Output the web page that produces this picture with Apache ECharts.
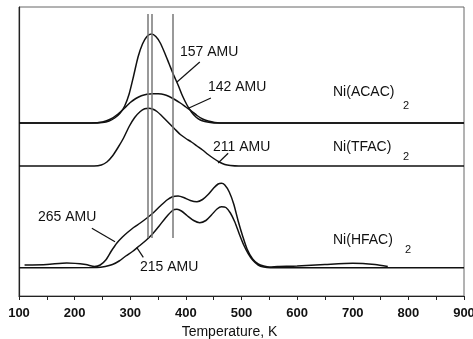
<!DOCTYPE html>
<html>
<head>
<meta charset="utf-8">
<script src="https://cdn.jsdelivr.net/npm/echarts@6/dist/echarts.min.js"></script>
<style>
  html, body { margin: 0; padding: 0; background: #fff; }
  #main { width: 473px; height: 339px; }
</style>
</head>
<body>
<div id="main"></div>
<script>
var chartDom = document.getElementById("main");
var myChart = echarts.init(chartDom);
var option;

var FONT = "Liberation Sans, Arial, sans-serif";

// x-axis ticks (temperature, K)
var xTicks = [100, 200, 300, 400, 500, 600, 700, 800, 900];

// Ni(ACAC)2 traces (signal, arbitrary offset units)
var temps157 = [100, 230, 250, 262, 272, 282, 290, 298, 306, 314, 322, 330, 338, 346, 354, 362, 370, 378, 386, 394, 402, 410, 418, 426, 434, 444, 455, 470, 900];
var amu157 = [173, 173, 173.5, 175, 178, 183, 190, 202, 220, 239, 252, 259.5, 262, 259.5, 253, 243, 232, 221, 211, 200, 191, 184, 179, 176, 174.5, 173.5, 173, 173, 173];

var temps142 = [100, 230, 250, 265, 278, 290, 300, 310, 320, 330, 340, 350, 360, 370, 380, 390, 400, 410, 420, 430, 440, 452, 470, 900];
var amu142 = [173, 173, 174, 177, 182, 188, 193.5, 197.5, 200.3, 201.8, 202.3, 202.2, 201.5, 199.5, 196.5, 193, 189, 185, 180.5, 177, 175, 173.6, 173, 173];

// Ni(TFAC)2
var temps211 = [100, 235, 248, 258, 268, 278, 288, 298, 308, 318, 326, 333, 340, 348, 356, 364, 372, 380, 390, 400, 410, 420, 430, 440, 450, 460, 470, 480, 495, 900];
var amu211 = [130, 130, 131, 134, 140, 148.5, 158, 169.5, 178.5, 184.5, 187.3, 187.8, 187, 184.5, 180.5, 176, 171.5, 167, 161.5, 157.5, 154, 150, 146, 141.5, 137.5, 134, 131.5, 130.5, 130, 130];

// Ni(HFAC)2
var temps265 = [110, 150, 186, 220, 236, 246, 256, 266, 276, 286, 296, 306, 318, 330, 342, 354, 366, 376, 386, 396, 408, 420, 430, 440, 450, 458, 464, 470, 478, 486, 494, 502, 510, 520, 530, 540, 550, 565, 600, 650, 700, 740, 763];
var amu265 = [31, 31.5, 33, 31.5, 29.5, 31, 36, 45, 53, 59, 64, 68.5, 73, 78, 83.5, 90, 96, 99.3, 100, 98.5, 95.5, 94.3, 96.5, 101.5, 108, 112, 112.7, 111, 104, 92, 75, 60, 47, 37, 32, 30, 29, 29.5, 30, 31.5, 32.7, 31.5, 29.5];

var temps215 = [100, 240, 255, 268, 280, 292, 304, 316, 328, 340, 352, 364, 376, 384, 392, 402, 414, 425, 436, 446, 456, 464, 472, 480, 488, 496, 504, 512, 520, 530, 540, 552, 900];
var amu215 = [28.3, 28.5, 29.5, 31.5, 35, 40, 44.5, 50, 55.5, 62, 70, 78.5, 85.5, 86.7, 85, 80.5, 75.5, 73.3, 75.5, 81, 87, 89.3, 88.5, 83, 74, 62, 51, 42.5, 36, 31, 29, 28.3, 28.3];

// vertical reference lines
var vLines = [331.5, 338.5, 376.5];
var vLineRange = [58, 282];

// leader lines: [x1, y1, x2, y2] in data units
var leaders = [
  [425, 234, 384, 214],
  [445, 198, 405.6, 188],
  [476, 142.7, 458, 133],
  [231, 67.7, 272.6, 54.3],
  [323.5, 38.7, 311.6, 48.7]
];

function pairs(xs, ys) {
  return xs.map(function (x, i) { return [x, ys[i]]; });
}

function curve(name, xs, ys) {
  return {
    name: name,
    type: "line",
    data: pairs(xs, ys),
    showSymbol: false,
    smooth: 0.25,
    lineStyle: { color: "#111", width: 1.5 },
    silent: true,
  };
}

function text(t, x, y, size) {
  return {
    type: "text",
    x: x,
    y: y,
    style: {
      text: t,
      fill: "#111",
      font: (size || 14) + "px " + FONT,
      verticalAlign: "middle",
    },
  };
}

option = {
  animation: false,
  grid: {
    left: 19,
    right: 9,
    top: 7,
    bottom: 43,
    containLabel: false,
    outerBoundsMode: "none",
    show: true,
    borderColor: "#666",
    borderWidth: 1,
  },
  xAxis: {
    type: "value",
    min: xTicks[0],
    max: xTicks[xTicks.length - 1],
    interval: 100,
    name: "Temperature, K",
    nameLocation: "middle",
    nameGap: 27,
    nameTextStyle: { fontFamily: FONT, fontSize: 14, color: "#111", padding: [0, 24, 0, 0] },
    axisLine: { lineStyle: { color: "#222", width: 1.2 } },
    axisTick: { length: 4, lineStyle: { color: "#222" } },
    minorTick: { show: true, splitNumber: 2, length: 4, lineStyle: { color: "#222" } },
    splitLine: { show: false },
    axisLabel: { fontFamily: FONT, fontSize: 13, fontWeight: "bold", color: "#111", margin: 11 },
  },
  yAxis: {
    type: "value",
    min: 0,
    max: 289,
    axisLine: { show: true, lineStyle: { color: "#222", width: 1.2 } },
    axisTick: { show: false },
    axisLabel: { show: false },
    splitLine: { show: false },
  },
  series: [
    curve("157 AMU", temps157, amu157),
    curve("142 AMU", temps142, amu142),
    curve("211 AMU", temps211, amu211),
    curve("265 AMU", temps265, amu265),
    curve("215 AMU", temps215, amu215),
    {
      name: "guides",
      type: "line",
      data: [],
      silent: true,
      markLine: {
        symbol: "none",
        silent: true,
        label: { show: false },
        data: vLines.map(function (t) {
          return [
            { coord: [t, vLineRange[0]], lineStyle: { color: "#777", width: 1.5, type: "solid" } },
            { coord: [t, vLineRange[1]] },
          ];
        }).concat(leaders.map(function (l) {
          return [
            { coord: [l[0], l[1]], lineStyle: { color: "#111", width: 1.2, type: "solid" } },
            { coord: [l[2], l[3]] },
          ];
        })),
      },
    },
  ],
  graphic: [
    text("157 AMU", 180, 52),
    text("142 AMU", 208, 87),
    text("211 AMU", 213, 147),
    text("265 AMU", 38, 217),
    text("215 AMU", 140, 267),
    text("Ni(ACAC)", 333, 92),
    text("2", 403, 106, 11),
    text("Ni(TFAC)", 333, 147),
    text("2", 403, 157, 11),
    text("Ni(HFAC)", 333, 240),
    text("2", 405, 250, 11),
  ],
};

option && myChart.setOption(option);
</script>
</body>
</html>
